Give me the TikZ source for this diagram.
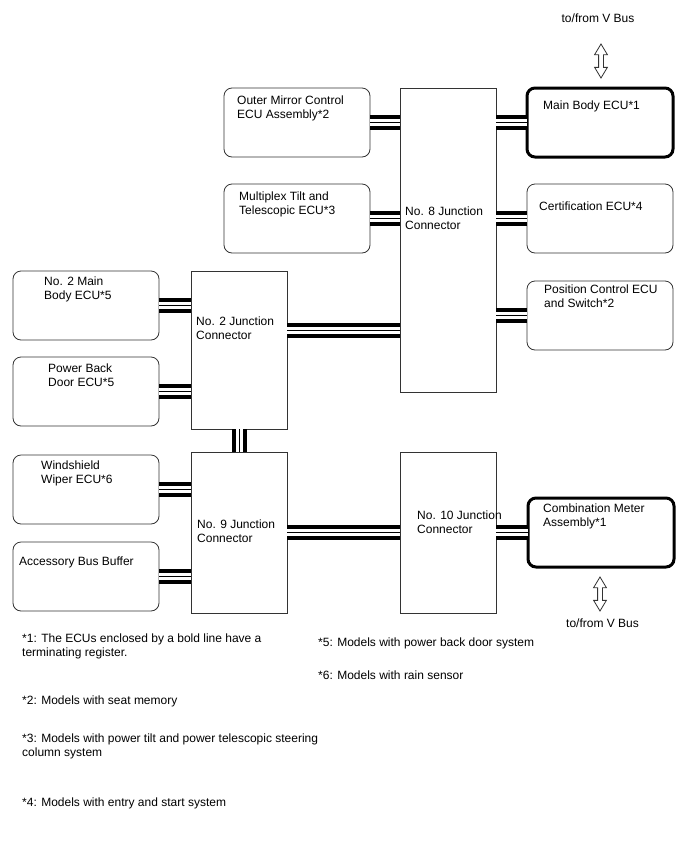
\documentclass[tikz,border=0pt]{standalone}
\usepackage{fontspec}
\setmainfont{Liberation Sans}
\usetikzlibrary{shapes.arrows}

\begin{document}
\begin{tikzpicture}[x=1pt, y=-1pt,
    ecu/.style={draw=black!80, line width=0.8pt, rounded corners=8pt, anchor=north west,
        minimum width=146pt, minimum height=69pt, inner sep=0pt, outer sep=0pt},
    term/.style={ecu, draw=black, line width=3pt},
    junction/.style={draw=black!80, line width=0.8pt, anchor=north west,
        minimum width=96pt, inner sep=0pt, outer sep=0pt},
    txt/.style={inner sep=0pt, align=left, font=\fontsize{12}{14}\selectfont},
    bus/.style={draw=black, line width=15pt, postaction={draw=white, line width=7pt},
        postaction={draw=black, line width=1pt}},
    vbus/.style={double arrow, draw=black!80, line width=0.8pt, rotate=90, minimum height=34pt,
        inner sep=2pt, double arrow head extend=4pt, double arrow tip angle=62}
]
\useasboundingbox (0,0) rectangle (688,852);

% Junction connectors
\node[junction, minimum height=304pt, label={[txt, anchor=north west, xshift=5pt, yshift=-119pt]north west:No. 8 Junction\\Connector}] (j8) at (400,88) {};
\node[junction, minimum height=158pt, label={[txt, anchor=north west, xshift=5pt, yshift=-46pt]north west:No. 2 Junction\\Connector}] (j2) at (191,271) {};
\node[junction, minimum height=161pt, label={[txt, anchor=north west, xshift=6pt, yshift=-68pt]north west:No. 9 Junction\\Connector}] (j9) at (191,452) {};
\node[junction, minimum height=161pt, label={[txt, anchor=north west, xshift=17pt, yshift=-59pt]north west:No. 10 Junction\\Connector}] (j10) at (400,452) {};

% ECUs (left of No. 8)
\node[ecu, label={[txt, anchor=north west, xshift=13pt, yshift=-8pt]north west:Outer Mirror Control\\ECU Assembly*2}] (om) at (224,88) {};
\node[ecu, label={[txt, anchor=north west, xshift=15pt, yshift=-8pt]north west:Multiplex Tilt and\\Telescopic ECU*3}] (mt) at (224,184) {};

% ECUs (right side)
\node[term, label={[txt, anchor=north west, xshift=16pt, yshift=-13pt]north west:Main Body ECU*1}] (mb) at (527,88) {};
\node[ecu, label={[txt, anchor=north west, xshift=12pt, yshift=-18pt]north west:Certification ECU*4}] (ce) at (527,184) {};
\node[ecu, label={[txt, anchor=north west, xshift=17pt, yshift=-4pt]north west:Position Control ECU\\and Switch*2}] (pc) at (527,281) {};
\node[term, label={[txt, anchor=north west, xshift=15pt, yshift=-6pt]north west:Combination Meter\\Assembly*1}] (cm) at (528,498) {};

% ECUs (left side)
\node[ecu, label={[txt, anchor=north west, xshift=31pt, yshift=-6pt]north west:No. 2 Main\\Body ECU*5}] (m2) at (13,271) {};
\node[ecu, label={[txt, anchor=north west, xshift=35pt, yshift=-7pt]north west:Power Back\\Door ECU*5}] (pb) at (13,357) {};
\node[ecu, label={[txt, anchor=north west, xshift=28pt, yshift=-6pt]north west:Windshield\\Wiper ECU*6}] (ws) at (13,455) {};
\node[ecu, label={[txt, anchor=north west, xshift=6pt, yshift=-15pt]north west:Accessory Bus Buffer}] (ab) at (13,542) {};

% Bus lines
\draw[bus] (om.east) -- (om.east -| j8.west);
\draw[bus] (mt.east) -- (mt.east -| j8.west);
\draw[bus] (mb.west) -- (mb.west -| j8.east);
\draw[bus] (ce.west) -- (ce.west -| j8.east);
\draw[bus] (pc.west) -- (pc.west -| j8.east);
\draw[bus] (m2.east) -- (m2.east -| j2.west);
\draw[bus] (pb.east) -- (pb.east -| j2.west);
\draw[bus] ([yshift=20pt]j2.east) -- ([yshift=20pt]j2.east -| j8.west);
\draw[bus] (j2.south) -- (j9.north);
\draw[bus] (ws.east) -- (ws.east -| j9.west);
\draw[bus] (ab.east) -- (ab.east -| j9.west);
\draw[bus] (j9.east) -- (j9.east -| j10.west);
\draw[bus] (cm.west) -- (cm.west -| j10.east);

% V Bus
\node[txt, anchor=north] (vtop) at (598,14) {to/from V Bus};
\node[vbus] (atop) at (601,61) {};
\node[vbus] (abot) at (600,594) {};
\node[txt, anchor=north west] (vbot) at (566,619) {to/from V Bus};

% Notes
\node[txt, anchor=north west] (fn1) at (22,634) {*1: The ECUs enclosed by a bold line have a\\terminating register.};
\node[txt, anchor=north west] (fn2) at (22,696) {*2: Models with seat memory};
\node[txt, anchor=north west] (fn3) at (22,734) {*3: Models with power tilt and power telescopic steering\\column system};
\node[txt, anchor=north west] (fn4) at (22,798) {*4: Models with entry and start system};
\node[txt, anchor=north west] (fn5) at (318,638) {*5: Models with power back door system};
\node[txt, anchor=north west] (fn6) at (318,671) {*6: Models with rain sensor};

\end{tikzpicture}
\end{document}
